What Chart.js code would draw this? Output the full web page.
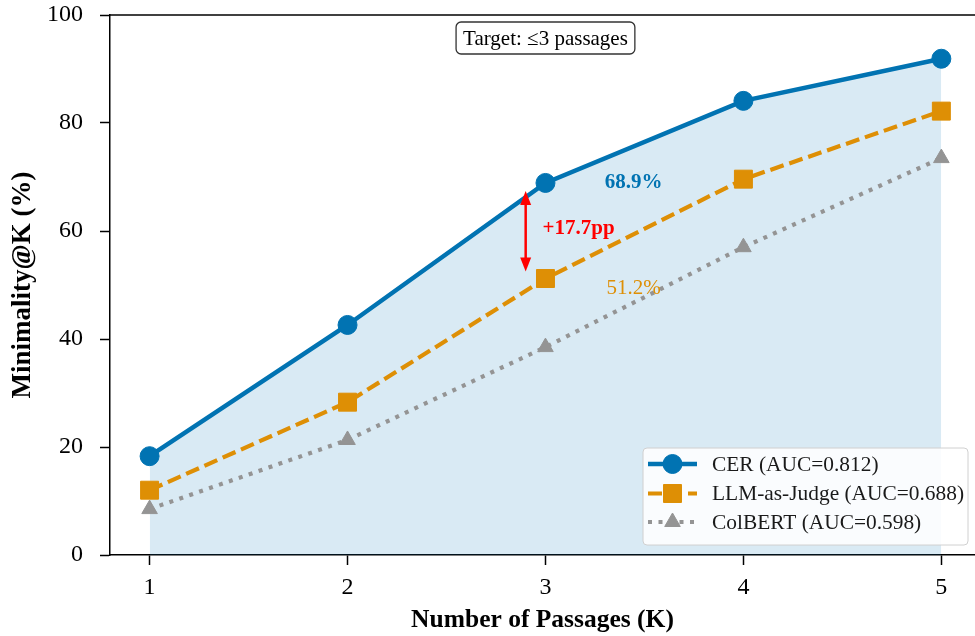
<!DOCTYPE html>
<html><head><meta charset="utf-8">
<script src="https://cdn.jsdelivr.net/npm/chart.js@4.4.1/dist/chart.umd.min.js"></script>
<style>html,body{margin:0;padding:0;background:#fff;overflow:hidden}#wrap{width:975px;height:636px}</style>
</head><body><div id="wrap"><canvas id="c" width="975" height="636"></canvas></div>
<script>
// ---- data ----
const kValues = [1, 2, 3, 4, 5];
const cerValues = [18.3, 42.6, 68.9, 84.1, 91.9];
const llmValues = [12.0, 28.3, 51.2, 69.6, 82.2];
const colbertValues = [8.5, 21.3, 38.5, 57.0, 73.5];
const seriesLabels = ['CER (AUC=0.812)', 'LLM-as-Judge (AUC=0.688)', 'ColBERT (AUC=0.598)'];
const yTickValues = [0, 20, 40, 60, 80, 100];
const targetNote = 'Target: \u22643 passages';
const gapLabel = '+17.7pp';
const gapK = 2.9;
const cerNote = '68.9%';
const llmNote = '51.2%';
const xTitle = 'Number of Passages (K)';
const yTitle = 'Minimality@K (%)';

// ---- styles ----
const FONT = "'Liberation Serif', 'Times New Roman', serif";
const BLUE = '#0173B2', ORANGE = '#DE8F05', GRAY = '#949494';

function pts(vals){ return kValues.map((k,i)=>({x:k,y:vals[i]})); }

function drawMarker(ctx, style, r, x, y, color){
  ctx.save();
  ctx.fillStyle = color; ctx.strokeStyle = color; ctx.lineWidth = 1; ctx.setLineDash([]);
  ctx.beginPath();
  if (style === 'circle') { ctx.arc(x, y, r, 0, Math.PI*2); }
  else if (style === 'rect') { const s = r*Math.SQRT1_2; ctx.rect(x-s, y-s, 2*s, 2*s); }
  else if (style === 'triangle') {
    ctx.moveTo(x, y - r);
    ctx.lineTo(x + r*Math.sin(2*Math.PI/3), y - r*Math.cos(2*Math.PI/3));
    ctx.lineTo(x + r*Math.sin(4*Math.PI/3), y - r*Math.cos(4*Math.PI/3));
    ctx.closePath();
  }
  ctx.fill(); ctx.stroke();
  ctx.restore();
}

const overlay = {
  id: 'overlay',
  afterDraw(chart){
    const {ctx, chartArea:a, scales:{x, y}} = chart;
    ctx.save();
    // top spine
    ctx.strokeStyle = '#000'; ctx.lineWidth = 1.5;
    ctx.beginPath(); ctx.moveTo(a.left - 0.75, a.top); ctx.lineTo(a.right, a.top); ctx.stroke();

    // y axis title (rotated)
    ctx.save();
    ctx.translate(23, (a.top + a.bottom) / 2);
    ctx.rotate(-Math.PI / 2);
    ctx.font = `bold 27px ${FONT}`; ctx.fillStyle = '#000';
    ctx.textAlign = 'center'; ctx.textBaseline = 'middle';
    ctx.fillText(yTitle, 0, 0);
    ctx.restore();

    // target note box
    ctx.font = `21px ${FONT}`;
    const tw = ctx.measureText(targetNote).width;
    const bx = x.getPixelForValue(3), by = a.top + 23;
    const bw = tw + 14, bh = 32;
    ctx.beginPath();
    ctx.roundRect(bx - bw/2, by - bh/2, bw, bh, 5);
    ctx.fillStyle = '#fff'; ctx.fill();
    ctx.strokeStyle = '#333'; ctx.lineWidth = 1.3; ctx.stroke();
    ctx.fillStyle = '#000'; ctx.textAlign = 'center'; ctx.textBaseline = 'middle';
    ctx.fillText(targetNote, bx, by + 1);

    // gap arrow
    const ax = x.getPixelForValue(gapK);
    const yTop = y.getPixelForValue(cerValues[2]) + 8;
    const yBot = y.getPixelForValue(llmValues[2]) - 7;
    ctx.strokeStyle = '#ff0000'; ctx.fillStyle = '#ff0000'; ctx.lineWidth = 2.5;
    ctx.beginPath(); ctx.moveTo(ax, yTop + 8); ctx.lineTo(ax, yBot - 8); ctx.stroke();
    ctx.beginPath(); ctx.moveTo(ax, yTop); ctx.lineTo(ax - 5.5, yTop + 14); ctx.lineTo(ax + 5.5, yTop + 14); ctx.closePath(); ctx.fill();
    ctx.beginPath(); ctx.moveTo(ax, yBot); ctx.lineTo(ax - 5.5, yBot - 14); ctx.lineTo(ax + 5.5, yBot - 14); ctx.closePath(); ctx.fill();

    ctx.font = `bold 21px ${FONT}`; ctx.textAlign = 'left'; ctx.fillStyle = '#ff0000';
    ctx.fillText(gapLabel, x.getPixelForValue(2.985), y.getPixelForValue(60.4));

    ctx.textAlign = 'center';
    ctx.font = `bold 21px ${FONT}`; ctx.fillStyle = BLUE;
    ctx.fillText(cerNote, x.getPixelForValue(3.445), y.getPixelForValue(69.0));
    ctx.font = `21px ${FONT}`; ctx.fillStyle = ORANGE;
    ctx.fillText(llmNote, x.getPixelForValue(3.445), y.getPixelForValue(49.3));

    // legend
    const lx = 643, ly = 448, lw = 325, lh = 97;
    ctx.beginPath(); ctx.roundRect(lx, ly, lw, lh, 4);
    ctx.fillStyle = 'rgba(255,255,255,0.85)'; ctx.fill();
    ctx.strokeStyle = '#d0d0d0'; ctx.lineWidth = 1; ctx.stroke();
    const rowsY = [464, 493.5, 522];
    chart.data.datasets.forEach((ds, i) => {
      const ry = rowsY[i];
      ctx.save();
      ctx.strokeStyle = ds.borderColor; ctx.lineWidth = ds.borderWidth;
      ctx.setLineDash(ds.borderDash || []); ctx.lineCap = 'butt';
      ctx.beginPath(); ctx.moveTo(648, ry); ctx.lineTo(697, ry); ctx.stroke();
      ctx.restore();
      drawMarker(ctx, ds.pointStyle, ds.pointRadius, 672.5, ry, ds.borderColor);
      ctx.font = `21.4px ${FONT}`; ctx.fillStyle = '#1a1a1a'; ctx.textAlign = 'left'; ctx.textBaseline = 'middle';
      ctx.fillText(ds.label, 712, ry + 1);
    });
    ctx.restore();
  }
};

new Chart(document.getElementById('c'), {
  type: 'line',
  data: {
    datasets: [
      { label: seriesLabels[0], data: pts(cerValues), borderColor: BLUE, backgroundColor: BLUE,
        borderWidth: 4.5, pointStyle: 'circle', pointRadius: 9.5, pointHoverRadius: 9.5,
        pointBackgroundColor: BLUE, pointBorderColor: BLUE, pointBorderWidth: 1,
        fill: {target: 'origin', above: 'rgba(1,115,178,0.15)'}, tension: 0 },
      { label: seriesLabels[1], data: pts(llmValues), borderColor: ORANGE, backgroundColor: ORANGE,
        borderWidth: 4.2, borderDash: [14, 6], pointStyle: 'rect', pointRadius: 12.7, pointHoverRadius: 12.7,
        pointBackgroundColor: ORANGE, pointBorderColor: ORANGE, pointBorderWidth: 1, fill: false, tension: 0 },
      { label: seriesLabels[2], data: pts(colbertValues), borderColor: GRAY, backgroundColor: GRAY,
        borderWidth: 4.2, borderDash: [4, 6.5], pointStyle: 'triangle', pointRadius: 9, pointHoverRadius: 9,
        pointBackgroundColor: GRAY, pointBorderColor: GRAY, pointBorderWidth: 1, fill: false, tension: 0 }
    ]
  },
  options: {
    responsive: false, animation: false, clip: false,
    layout: { autoPadding: false, padding: { top: 15, left: 0, right: 0, bottom: 0 } },
    plugins: { legend: { display: false }, tooltip: { enabled: false },
      filler: { drawTime: 'beforeDatasetsDraw' } },
    scales: {
      x: { type: 'linear', min: 0.8, max: 5.17,
        afterBuildTicks: s => { s.ticks = kValues.map(v => ({ value: v })); },
        afterFit: s => { s.height = 81; s.paddingLeft = 0; s.paddingRight = 0; },
        grid: { display: true, drawOnChartArea: false, drawTicks: true, tickLength: 10, tickWidth: 1.5, tickColor: '#000' },
        border: { display: true, color: '#000', width: 1.5 },
        ticks: { font: { family: FONT, size: 24 }, color: '#000', padding: 8, maxRotation: 0, callback: v => String(v) },
        title: { display: true, text: xTitle, color: '#000',
          font: { family: FONT, size: 25.5, weight: 'bold' }, padding: { top: 2, bottom: 0 } } },
      y: { type: 'linear', min: 0, max: 100,
        afterBuildTicks: s => { s.ticks = yTickValues.map(v => ({ value: v })); },
        afterFit: s => { s.width = 110; s.paddingTop = 0; s.paddingBottom = 0; },
        grid: { display: true, drawOnChartArea: false, drawTicks: true, tickLength: 10, tickWidth: 1.5, tickColor: '#000' },
        border: { display: true, color: '#000', width: 1.5 },
        ticks: { font: { family: FONT, size: 24 }, color: '#000', padding: 17 },
        title: { display: false } }
    }
  },
  plugins: [overlay]
});
</script>
</body></html>
